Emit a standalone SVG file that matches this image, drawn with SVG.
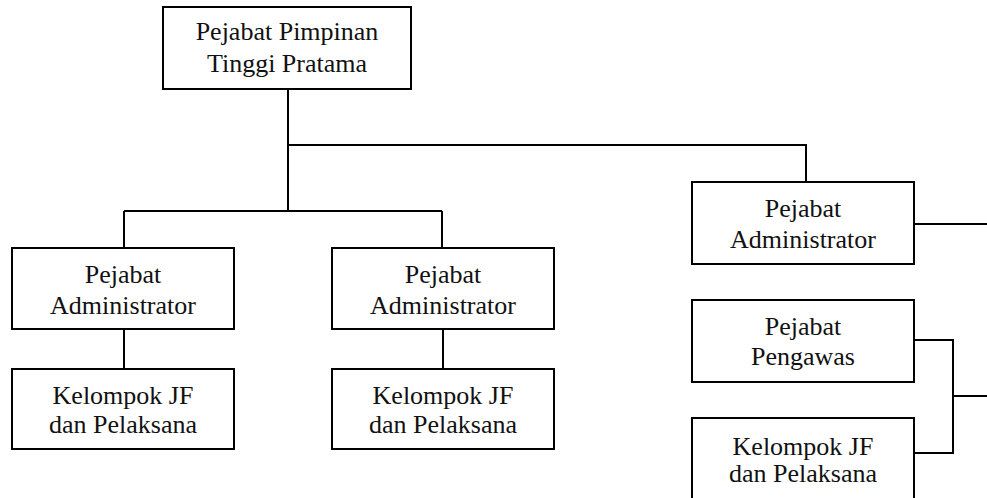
<svg xmlns="http://www.w3.org/2000/svg" width="987" height="498" viewBox="0 0 987 498">
<style>
.box{fill:#fff;stroke:#000;stroke-width:2}
.lbl{font-family:"Liberation Serif","Times New Roman",serif;font-size:26px;fill:#111;text-anchor:middle}
.con{fill:none;stroke:#000;stroke-width:2}
</style>
<rect width="987" height="498" fill="#fff"/>
<g id="connectors">
<path class="con" d="M288,89 V211 M124,211 H442 M124,211 V248 M442,211 V248 M288,145 H806 V182"/>
<path class="con" d="M124,329 V369 M443,329 V369"/>
<path class="con" d="M914,224 H987"/>
<path class="con" d="M914,340 H953 V453 H914 M953,396 H987"/>
</g>
<g id="n-pimpinan">
<rect class="box" x="163" y="7" width="248" height="82"/>
<text class="lbl" x="287" y="40">Pejabat Pimpinan</text>
<text class="lbl" x="287" y="72">Tinggi Pratama</text>
</g>
<g id="n-admin1">
<rect class="box" x="12" y="248" width="222" height="81"/>
<text class="lbl" x="123" y="283">Pejabat</text>
<text class="lbl" x="123" y="314">Administrator</text>
</g>
<g id="n-jf1">
<rect class="box" x="12" y="369" width="222" height="80"/>
<text class="lbl" x="123" y="404">Kelompok JF</text>
<text class="lbl" x="123" y="433">dan Pelaksana</text>
</g>
<g id="n-admin2">
<rect class="box" x="332" y="248" width="222" height="81"/>
<text class="lbl" x="443" y="283">Pejabat</text>
<text class="lbl" x="443" y="314">Administrator</text>
</g>
<g id="n-jf2">
<rect class="box" x="332" y="369" width="222" height="80"/>
<text class="lbl" x="443" y="404">Kelompok JF</text>
<text class="lbl" x="443" y="433">dan Pelaksana</text>
</g>
<g id="n-admin3">
<rect class="box" x="692" y="182" width="222" height="82"/>
<text class="lbl" x="803" y="217">Pejabat</text>
<text class="lbl" x="803" y="248">Administrator</text>
</g>
<g id="n-pengawas">
<rect class="box" x="692" y="300" width="222" height="82"/>
<text class="lbl" x="803" y="335">Pejabat</text>
<text class="lbl" x="803" y="365">Pengawas</text>
</g>
<g id="n-jf3">
<rect class="box" x="692" y="418" width="222" height="84"/>
<text class="lbl" x="803" y="455">Kelompok JF</text>
<text class="lbl" x="803" y="482">dan Pelaksana</text>
</g>
</svg>
